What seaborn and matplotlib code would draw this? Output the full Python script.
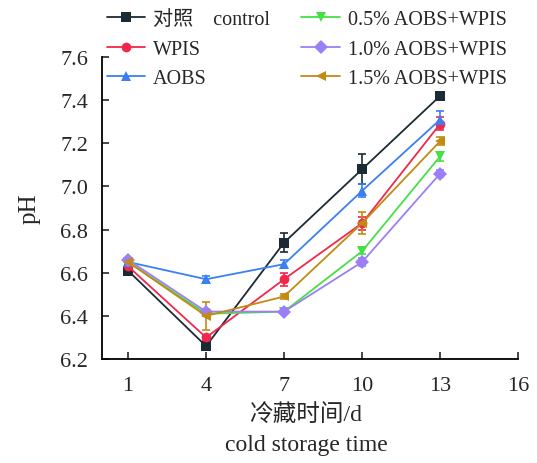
import numpy as np
import pandas as pd
import matplotlib
matplotlib.use('Agg')
import matplotlib.pyplot as plt
import seaborn as sns

# 数据
days = [1, 4, 7, 10, 13]
groups = ['对照    control', 'WPIS', 'AOBS', '0.5% AOBS+WPIS', '1.0% AOBS+WPIS', '1.5% AOBS+WPIS']
ph_control = [6.61, 6.26, 6.74, 7.08, 7.42]
ph_wpis = [6.63, 6.30, 6.57, 6.83, 7.29]
ph_aobs = [6.65, 6.57, 6.64, 6.98, 7.31]
ph_05 = [6.65, 6.41, 6.42, 6.70, 7.14]
ph_10 = [6.66, 6.42, 6.42, 6.65, 7.06]
ph_15 = [6.65, 6.40, 6.49, 6.83, 7.21]
err_control = [0.01, 0.01, 0.045, 0.07, 0.02]
err_wpis = [0.01, 0.01, 0.03, 0.03, 0.03]
err_aobs = [0.01, 0.015, 0.02, 0.03, 0.04]
err_05 = [0.01, 0.01, 0.01, 0.015, 0.02]
err_10 = [0.01, 0.01, 0.01, 0.02, 0.015]
err_15 = [0.01, 0.065, 0.01, 0.05, 0.02]

colors = ['#1c2b33', '#f0284c', '#3a80f2', '#45e045', '#9b80f5', '#c28a12']
markers = ['s', 'o', '^', 'v', 'D', '<']

values = [ph_control, ph_wpis, ph_aobs, ph_05, ph_10, ph_15]
errors = [err_control, err_wpis, err_aobs, err_05, err_10, err_15]

df = pd.DataFrame({
    'day': days * len(groups),
    'group': np.repeat(groups, len(days)),
    'pH': np.concatenate(values),
})

sns.set_style('ticks')
plt.rcParams['font.family'] = ['Liberation Serif', 'Noto Sans CJK SC']
plt.rcParams['xtick.direction'] = 'in'
plt.rcParams['ytick.direction'] = 'in'

fig = plt.figure(figsize=(5.37, 4.64), dpi=100)
ax = fig.add_axes([0.19, 0.224, 0.775, 0.651])

for i, g in enumerate(groups):
    ax.errorbar(days, values[i], yerr=errors[i], fmt='none', ecolor=colors[i],
                elinewidth=1.2, capsize=3, capthick=1.2, zorder=2)

sns.lineplot(data=df, x='day', y='pH', hue='group', style='group',
             palette=colors, markers=markers, dashes=False, hue_order=groups,
             style_order=groups, linewidth=1.3, markersize=7,
             markeredgewidth=0, ax=ax, zorder=3)

ax.set_xlim(0, 16)
ax.set_ylim(6.2, 7.6)
ax.set_xticks([1, 4, 7, 10, 13, 16])
ax.set_yticks(np.arange(6.2, 7.61, 0.2))
ax.set_yticklabels([f'{v:.1f}' for v in np.arange(6.2, 7.61, 0.2)])
ax.tick_params(labelsize=16, width=1.2, length=5)
ax.tick_params(axis='y', pad=10)
ax.tick_params(axis='x', pad=12)
sns.despine(ax=ax)
for s in ['left', 'bottom']:
    ax.spines[s].set_linewidth(1.3)
    ax.spines[s].set_color('black')

ax.set_xlabel('冷藏时间/d\ncold storage time', fontsize=17, linespacing=1.6)
ax.xaxis.set_label_coords(0.49, -0.232)
ax.xaxis.label.set_va('center')
ax.set_ylabel('pH', fontsize=18)
ax.yaxis.set_label_coords(-0.173, 0.5)
ax.yaxis.label.set_va('center')

handles, labels = ax.get_legend_handles_labels()
ax.get_legend().remove()
fig.legend(handles, labels, ncol=2, frameon=False, fontsize=14.5,
           loc='upper left', bbox_to_anchor=(0.184, 0.993), borderaxespad=0,
           columnspacing=1.55, handlelength=1.9, handletextpad=0.4,
           labelspacing=0.5)

fig.savefig('out.png', dpi=100)
